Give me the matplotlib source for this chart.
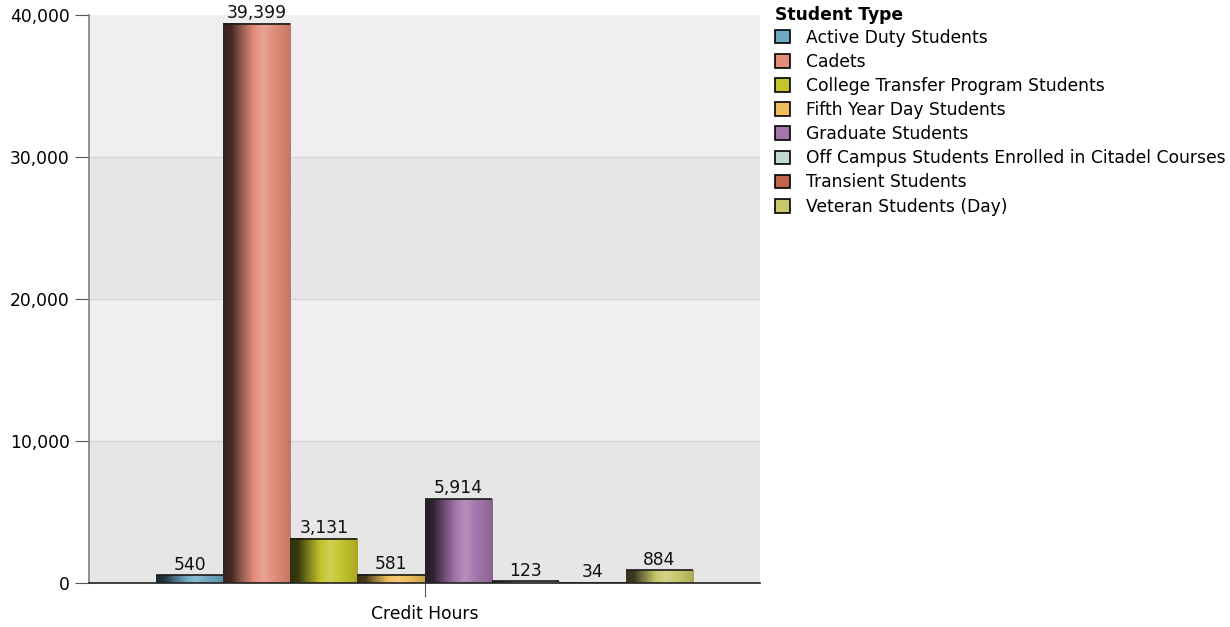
import numpy as np
import matplotlib
matplotlib.use("Agg")
import matplotlib.pyplot as plt
from matplotlib.patches import Patch
from matplotlib.colors import to_rgb
from matplotlib.ticker import FuncFormatter

# ---------------- data ----------------
category = "Credit Hours"
student_types = [
    "Active Duty Students",
    "Cadets",
    "College Transfer Program Students",
    "Fifth Year Day Students",
    "Graduate Students",
    "Off Campus Students Enrolled in Citadel Courses",
    "Transient Students",
    "Veteran Students (Day)",
]
credit_hours = [540, 39399, 3131, 581, 5914, 123, 34, 884]
colors = ["#6fa9c2", "#e38c7a", "#c4c42c", "#efbd5a", "#a475ab", "#c3d8d5", "#c0644c", "#c9c96c"]

plt.rcParams["font.family"] = ["DejaVu Sans"]
fs = 12.3

fig = plt.figure(figsize=(12.3, 6.27), dpi=100)
ax = fig.add_axes([89 / 1230, 44 / 627, 671 / 1230, 568 / 627])

ax.set_xlim(-0.5, 0.5)
ax.set_ylim(0, 40000)

# alternating background bands + grid
for i, lo in enumerate(range(0, 40000, 10000)):
    ax.axhspan(lo, lo + 10000, color="#e6e6e6" if i % 2 == 0 else "#efefef", zorder=0, lw=0)
for y in [10000, 20000, 30000]:
    ax.axhline(y, color="#d4d4d4", lw=0.8, zorder=0.5)

# shading profile across each bar (dark left, light middle, slightly darker right)
px = np.linspace(0, 1, 60)
prof = np.interp(px, [0, 0.12, 0.25, 0.45, 0.6, 0.85, 1.0], [0.25, 0.3, 0.6, 1.0, 1.08, 0.95, 0.85])

bar_w = 0.1
n = len(student_types)
xs = [(i - (n - 1) / 2) * bar_w for i in range(n)]
bars = ax.bar(xs, credit_hours, width=bar_w, color=colors, lw=0, zorder=2)

for b, c, v in zip(bars, colors, credit_hours):
    base = np.array(to_rgb(c))
    rows = []
    for f in prof:
        if f <= 1:
            rows.append(base * f)
        else:
            rows.append(base + (1 - base) * (f - 1) * 2.5)
    img = np.clip(np.array(rows), 0, 1)[None, :, :]
    x0 = b.get_x()
    x1 = x0 + b.get_width()
    ax.imshow(img, extent=(x0, x1, 0, v), aspect="auto", zorder=3, interpolation="bilinear")
    ax.hlines(v, x0, x1, color="#1a1a1a", lw=1.2, zorder=4)
    ax.text(b.get_x() + b.get_width() / 2, v + 120, f"{v:,}", ha="center", va="bottom",
            fontsize=fs, color="#111111", zorder=5)

ax.set_xlim(-0.5, 0.5)
ax.set_ylim(0, 40000)

ax.set_xticks([0])
ax.set_xticklabels([category], fontsize=fs)
ax.set_yticks([0, 10000, 20000, 30000, 40000])
ax.yaxis.set_major_formatter(FuncFormatter(lambda v, p: f"{int(v):,}"))
ax.tick_params(axis="y", labelsize=fs, length=10, color="#555555", pad=4)
ax.tick_params(axis="x", length=10, color="#555555", pad=6)

for s in ["top", "right"]:
    ax.spines[s].set_visible(False)
ax.spines["left"].set_color("#808080")
ax.spines["left"].set_linewidth(1.2)
ax.spines["bottom"].set_color("#222222")
ax.spines["bottom"].set_linewidth(1.2)
ax.spines["bottom"].set_zorder(6)

handles = [Patch(facecolor=c, edgecolor="black", lw=1.2) for c in colors]
leg = fig.legend(handles, student_types, loc="upper left", bbox_to_anchor=(772 / 1230, 1 - 3 / 627),
                 frameon=False, title="Student Type", alignment="left", fontsize=fs,
                 title_fontproperties={"weight": "bold", "size": fs},
                 handlelength=0.85, handleheight=0.85, handletextpad=0.95, labelspacing=0.36,
                 borderpad=0.2, borderaxespad=0)
leg._legend_box.sep = 3

fig.savefig("out.png", dpi=100)
